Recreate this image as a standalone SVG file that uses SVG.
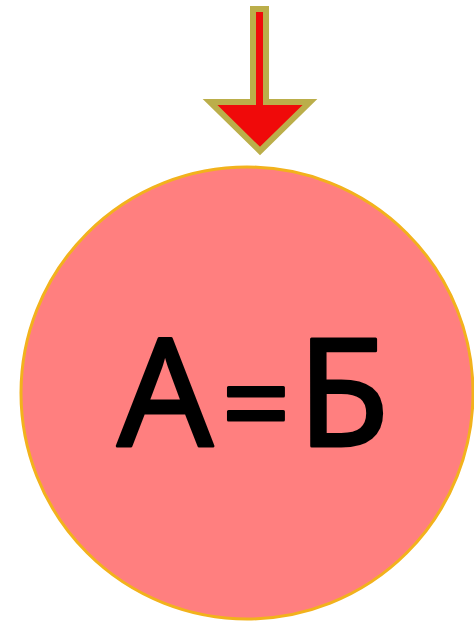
<svg xmlns="http://www.w3.org/2000/svg" width="474" height="627" viewBox="0 0 474 627">
  <style>
    .arrow { fill: #F00A0A; stroke: #BBAE4A; stroke-width: 6; stroke-linejoin: miter; stroke-miterlimit: 10; }
    .node { fill: #FF7F7F; stroke: #F2B21C; stroke-width: 3; }
    .label { font-family: "Comic Sans MS", "Noto Sans", "DejaVu Sans", sans-serif; font-weight: normal; font-size: 150px; fill: #000000; stroke: #000000; stroke-width: 3; stroke-linejoin: round; text-anchor: middle; }
  </style>
  <rect width="474" height="627" fill="#FFFFFF"/>
  <g id="connectors">
    <path class="arrow" d="M253,9 L266,9 L266,102 L310,102 L260,151 L210,102 L253,102 Z"/>
  </g>
  <g id="node-equation">
    <circle class="node" cx="247" cy="393" r="226"/>
    <text class="label" y="446"><tspan x="165">А</tspan><tspan x="256" font-size="120">=</tspan><tspan x="343">Б</tspan></text>
  </g>
</svg>
